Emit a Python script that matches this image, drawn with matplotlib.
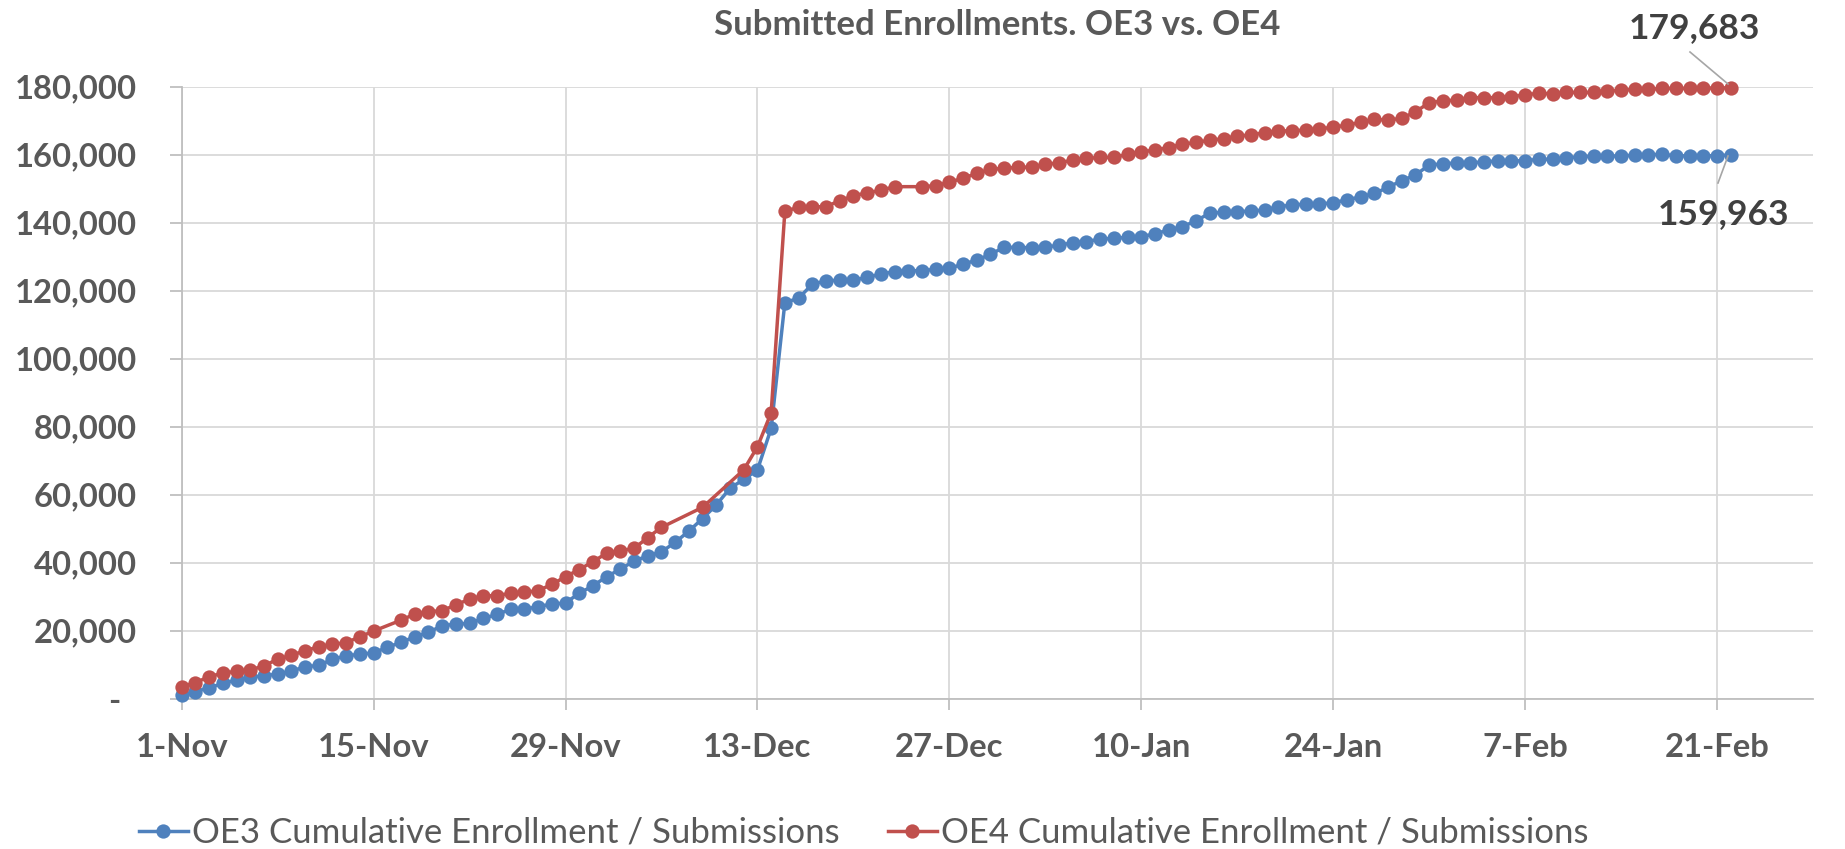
import numpy as np
import pandas as pd
import matplotlib
matplotlib.use("Agg")
import matplotlib.pyplot as plt
import matplotlib.transforms as mtransforms

# ---------------- data ----------------
start_date = "2016-11-01"
end_date = "2017-02-28"

# OE3 cumulative enrollment (thousands), one value per day from 1-Nov
oe3 = [1.1, 2.1, 3.2, 4.5, 5.5, 6.3, 6.8, 7.2, 8.1, 9.4,
       9.8, 11.6, 12.6, 13.1, 13.5, 15.1, 16.6, 18.2, 19.5, 21.5,
       21.9, 22.2, 23.6, 24.8, 26.3, 26.3, 27.1, 27.8, 28.2, 31.0,
       33.2, 35.9, 38.1, 40.5, 42.0, 43.2, 46.0, 49.3, 53.0, 57.0,
       61.9, 64.5, 67.3, 79.5, 116.5, 117.8, 121.9, 122.9, 123.1, 123.1,
       123.9, 124.9, 125.6, 125.9, 125.9, 126.3, 126.6, 127.8, 129.0, 130.7,
       132.8, 132.7, 132.7, 132.8, 133.4, 134.1, 134.4, 135.2, 135.4, 135.7,
       135.9, 136.7, 137.9, 138.8, 140.6, 142.8, 143.1, 143.2, 143.5, 143.7,
       144.7, 145.2, 145.5, 145.5, 145.9, 146.7, 147.6, 148.6, 150.4, 152.4,
       154.0, 157.0, 157.3, 157.6, 157.6, 157.9, 158.2, 158.2, 158.2, 158.7,
       158.6, 159.1, 159.4, 159.6, 159.6, 159.6, 159.9, 159.9, 160.2, 159.6,
       159.7, 159.7, 159.7, 159.963]

# OE4 cumulative enrollment (thousands); None = no report that day
oe4 = [3.5, 4.7, 6.5, 7.5, 8.1, 8.4, 9.7, 11.6, 12.8, 14.1,
       15.3, 16.0, 16.5, 18.2, 19.9, None, 23.1, 24.9, 25.6, 25.9,
       27.6, 29.3, 30.3, 30.3, 31.0, 31.3, 31.8, 33.6, 35.9, 38.0,
       40.3, 42.8, 43.5, 44.2, 47.4, 50.4, None, None, 56.3, None,
       None, 67.3, 74.1, 84.1, 143.4, 144.5, 144.7, 144.7, 146.5, 147.9,
       148.8, 149.5, 150.6, None, 150.6, 150.9, 151.9, 153.1, 154.5, 155.7,
       156.0, 156.3, 156.3, 157.2, 157.6, 158.4, 158.9, 159.2, 159.2, 160.1,
       160.8, 161.4, 162.1, 163.1, 163.6, 164.3, 164.7, 165.5, 165.8, 166.5,
       167.0, 167.0, 167.3, 167.6, 168.1, 168.7, 169.5, 170.4, 170.2, 170.7,
       172.6, 175.3, 175.8, 176.1, 176.8, 176.8, 176.8, 177.1, 177.6, 178.1,
       177.9, 178.3, 178.3, 178.3, 178.7, 179.0, 179.2, 179.2, 179.5, 179.5,
       179.5, 179.6, 179.6, 179.683]

series_names = ["OE3 Cumulative Enrollment / Submissions",
                "OE4 Cumulative Enrollment / Submissions"]
series_colors = ["#4F81BD", "#C0504D"]
end_labels = ["159,963", "179,683"]

x_tick_labels = ["1-Nov", "15-Nov", "29-Nov", "13-Dec", "27-Dec",
                 "10-Jan", "24-Jan", "7-Feb", "21-Feb"]
x_tick_dates = ["2016-11-01", "2016-11-15", "2016-11-29", "2016-12-13",
                "2016-12-27", "2017-01-10", "2017-01-24", "2017-02-07",
                "2017-02-21"]
y_ticks = [0, 20000, 40000, 60000, 80000, 100000, 120000, 140000, 160000, 180000]
y_tick_labels = ["-", "20,000", "40,000", "60,000", "80,000", "100,000",
                 "120,000", "140,000", "160,000", "180,000"]
title = "Submitted Enrollments. OE3 vs. OE4"

# ---------------- figure ----------------
W, H, DPI = 1845, 849, 100
fig = plt.figure(figsize=(W / DPI, H / DPI), dpi=DPI)
ax = fig.add_axes([181.7 / W, 1 - 698.7 / H, (1813 - 181.7) / W, (698.7 - 86.7) / H])

dates = pd.date_range(start_date, periods=len(oe3), freq="D")
s3 = pd.Series(np.array(oe3, dtype=float) * 1000, index=dates)
s4 = pd.Series(np.array([np.nan if v is None else v for v in oe4], dtype=float) * 1000, index=dates).dropna()

for s, c, name in zip([s3, s4], series_colors, series_names):
    ax.plot(s.index, s.values, color=c, lw=2.5, marker="o", ms=10.3,
            markeredgewidth=0, label=name, clip_on=False, zorder=3)

ax.set_xlim(pd.Timestamp(start_date), pd.Timestamp(end_date))
ax.set_ylim(0, 180000)

grid_c = "#D9D9D9"
axis_c = "#BFBFBF"
lab_c = "#595959"
font_b = dict(family=["Lato", "DejaVu Sans"], weight="bold")

ax.set_xticks([pd.Timestamp(d) for d in x_tick_dates])
ax.set_xticklabels(x_tick_labels, fontsize=23.6, color=lab_c, **font_b)
ax.set_yticks(y_ticks)
ax.set_yticklabels(y_tick_labels, fontsize=23.6, color=lab_c, **font_b)

ax.tick_params(axis="y", length=8.6, width=1.3, color=axis_c, pad=23.5, direction="out")
ax.tick_params(axis="x", length=8, width=1.3, color=axis_c, pad=17, direction="out")

# shift "-" (zero label) left like the accounting format
off = mtransforms.ScaledTranslation(-17 / DPI, 0, fig.dpi_scale_trans)
ax.get_yticklabels()[0].set_transform(ax.get_yticklabels()[0].get_transform() + off)

ax.grid(True, color=grid_c, lw=1.3, zorder=0)
ax.set_axisbelow(True)
for sp in ["top", "right"]:
    ax.spines[sp].set_visible(False)
for sp in ["left", "bottom"]:
    ax.spines[sp].set_color(axis_c)
    ax.spines[sp].set_linewidth(1.3)

# title
fig.text(997 / W, 1 - 25 / H, title, ha="center", va="center",
         fontsize=25, color=lab_c, **font_b)

# end-point labels with leader lines
last_x = s3.index[-1]
ann_c = "#404040"
lead_c = "#A6A6A6"
ax.annotate(end_labels[1], xy=(last_x, s4.values[-1]),
            xytext=(1694, H - 28), textcoords="figure pixels",
            ha="center", va="center", fontsize=25.5, color=ann_c, **font_b,
            annotation_clip=False)
ax.annotate(end_labels[0], xy=(last_x, s3.values[-1]),
            xytext=(1723, H - 214), textcoords="figure pixels",
            ha="center", va="center", fontsize=25.5, color=ann_c, **font_b,
            annotation_clip=False)
fig.add_artist(plt.Line2D([1690 / W, 1728 / W], [1 - 52 / H, 1 - 84 / H],
                          color=lead_c, lw=1.2))
fig.add_artist(plt.Line2D([1718 / W, 1728 / W], [1 - 183 / H, 1 - 156 / H],
                          color=lead_c, lw=1.2))

# legend
leg = fig.legend(loc="center left", bbox_to_anchor=(139 / W, 1 - 833 / H),
                 ncol=2, frameon=False, borderpad=0, borderaxespad=0,
                 handlelength=1.4, handletextpad=0.12, columnspacing=1.4,
                 prop=dict(family=["Lato", "DejaVu Sans"], size=25))
for t in leg.get_texts():
    t.set_color(lab_c)

fig.savefig("out.png", dpi=DPI)
